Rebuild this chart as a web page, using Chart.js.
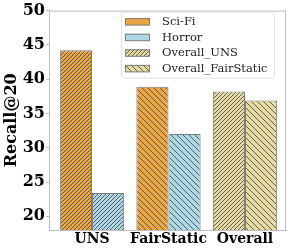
<!DOCTYPE html>
<html>
<head>
<meta charset="utf-8">
<script src="https://cdn.jsdelivr.net/npm/chart.js@4"></script>
<style>
  html, body { margin: 0; padding: 0; background: #fff; }
  #wrap { width: 291px; height: 249px; }
</style>
</head>
<body>
<div id="wrap"><canvas id="c" width="291" height="249"></canvas></div>
<script>
// ---- data ----
const categories = ["UNS", "FairStatic", "Overall"];
const sciFi = [44.2, 38.9, null];
const horror = [23.4, 32.0, null];
const overallUNS = [null, null, 38.2];
const overallFairStatic = [null, null, 36.9];
const yTicks = [20, 25, 30, 35, 40, 45, 50];
const seriesNames = ["Sci-Fi", "Horror", "Overall_UNS", "Overall_FairStatic"];

// ---- styles ----
const ORANGE = '#EAA640';
const BLUE = '#ADD8E6';
const BEIGE = '#E8DBA2';
const EDGE = '#7d7d7d';
const HATCH = 'rgba(70,70,70,0.85)';
const SPINE = '#bdbdbd';
const FONT = "'DejaVu Serif', serif";

const canvas = document.getElementById('c');
const ctx = canvas.getContext('2d');

function hatch(bg, dir, s) {
  if (!dir) return bg;
  const c = document.createElement('canvas');
  c.width = s; c.height = s;
  const g = c.getContext('2d');
  g.fillStyle = bg; g.fillRect(0, 0, s, s);
  g.strokeStyle = HATCH; g.lineWidth = 1;
  g.beginPath();
  if (dir === '/') {
    g.moveTo(0, s); g.lineTo(s, 0);
    g.moveTo(-1, 1); g.lineTo(1, -1);
    g.moveTo(s - 1, s + 1); g.lineTo(s + 1, s - 1);
  } else {
    g.moveTo(0, 0); g.lineTo(s, s);
    g.moveTo(-1, s - 1); g.lineTo(1, s + 1);
    g.moveTo(s - 1, -1); g.lineTo(s + 1, 1);
  }
  g.stroke();
  return ctx.createPattern(c, 'repeat');
}

function pts(arr) { return arr.map((v, i) => ({ x: i, y: v })); }

const fills = {
  sciFi: [hatch(ORANGE, '/', 4), hatch(ORANGE, '\\', 6), ORANGE],
  horror: [hatch(BLUE, '/', 4), hatch(BLUE, '\\', 6), BLUE],
  ouns: [BEIGE, BEIGE, hatch(BEIGE, '/', 4)],
  ofs: [BEIGE, BEIGE, hatch(BEIGE, '\\', 6)]
};
const legendFills = [ORANGE, BLUE, hatch(BEIGE, '/', 4), hatch(BEIGE, '\\', 6)];

const common = { borderColor: EDGE, borderWidth: 1, borderSkipped: false, skipNull: true,
                 categoryPercentage: 0.84, barPercentage: 1.0 };

const legendPlugin = {
  id: 'innerLegend',
  afterDraw(chart) {
    const a = chart.chartArea;
    const c = chart.ctx;
    // top and right spines
    c.save();
    c.strokeStyle = SPINE; c.lineWidth = 1;
    c.beginPath();
    c.moveTo(a.left, a.top + 0.5); c.lineTo(a.right, a.top + 0.5);
    c.moveTo(a.right - 0.5, a.top); c.lineTo(a.right - 0.5, a.bottom);
    c.stroke();
    // legend box
    const bx = a.left + 72, by = a.top + 1, bw = 153, bh = 66;
    c.fillStyle = 'rgba(255,255,255,0.85)';
    c.strokeStyle = '#e2e2e2';
    c.beginPath();
    if (c.roundRect) c.roundRect(bx + 0.5, by + 0.5, bw, bh, 3); else c.rect(bx + 0.5, by + 0.5, bw, bh);
    c.fill(); c.stroke();
    c.font = "11.5px " + FONT;
    c.textBaseline = 'middle';
    c.textAlign = 'left';
    chart.data.datasets.forEach((ds, i) => {
      const cy = by + 10 + i * 15.6;
      c.fillStyle = legendFills[i];
      c.fillRect(bx + 4, cy - 3.5, 25, 7);
      c.strokeStyle = EDGE;
      c.strokeRect(bx + 4.5, cy - 3, 24, 6.5);
      c.fillStyle = '#222';
      c.fillText(ds.label, bx + 41, cy + 0.5);
    });
    c.restore();
  }
};

new Chart(canvas, {
  type: 'bar',
  data: {
    datasets: [
      Object.assign({ label: seriesNames[0], data: pts(sciFi), backgroundColor: fills.sciFi }, common),
      Object.assign({ label: seriesNames[1], data: pts(horror), backgroundColor: fills.horror }, common),
      Object.assign({ label: seriesNames[2], data: pts(overallUNS), backgroundColor: fills.ouns }, common),
      Object.assign({ label: seriesNames[3], data: pts(overallFairStatic), backgroundColor: fills.ofs }, common)
    ]
  },
  options: {
    responsive: false,
    animation: false,
    devicePixelRatio: 1,
    layout: { padding: { left: 0, right: 5, top: 9, bottom: 0 } },
    plugins: { legend: { display: false }, tooltip: { enabled: false } },
    scales: {
      x: {
        type: 'linear',
        offset: false,
        min: -0.562,
        max: 2.536,
        afterBuildTicks: s => { s.ticks = categories.map((c, i) => ({ value: i })); },
        afterFit: s => { s.height = 19; },
        ticks: {
          autoSkip: false, maxRotation: 0,
          callback: v => categories[v],
          color: '#000',
          font: { family: FONT, size: 14, weight: 'bold' },
          padding: 1
        },
        grid: { display: true, offset: false, drawOnChartArea: false, drawTicks: false },
        border: { display: true, color: SPINE }
      },
      y: {
        min: 18,
        max: 50,
        afterBuildTicks: s => { s.ticks = yTicks.map(v => ({ value: v })); },
        afterFit: s => { s.width = 49; },
        ticks: {
          color: '#000',
          font: { family: FONT, size: 16, weight: 'bold' },
          padding: 1
        },
        grid: { display: true, drawOnChartArea: false, drawTicks: true, tickLength: 3, color: SPINE },
        border: { display: true, color: SPINE },
        title: {
          display: true,
          text: 'Recall@20',
          color: '#000',
          font: { family: FONT, size: 16, weight: 'bold' },
          padding: { top: 2, bottom: 0 }
        }
      }
    }
  },
  plugins: [legendPlugin]
});
</script>
</body>
</html>
